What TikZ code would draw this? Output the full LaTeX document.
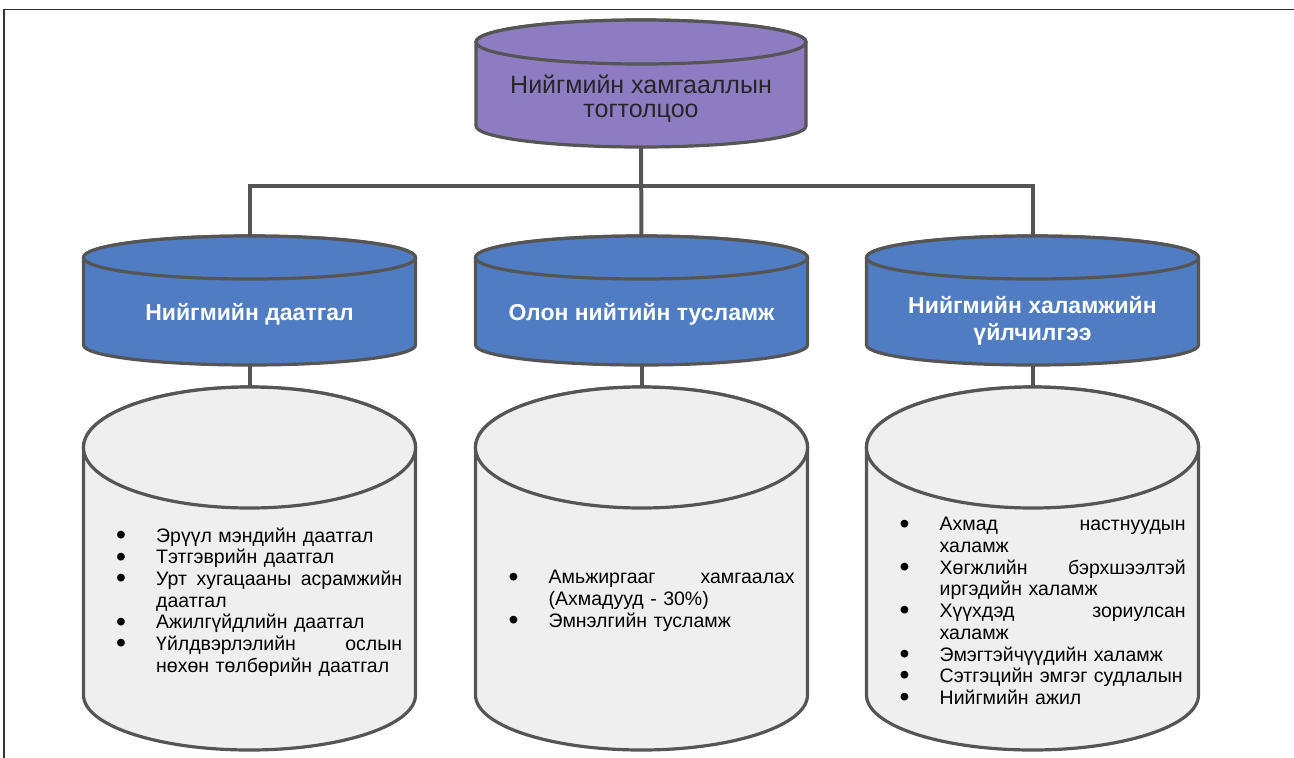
\documentclass[tikz,border=0pt]{standalone}
\usepackage{fontspec}
\setmainfont{Liberation Sans}
\definecolor{edgegray}{HTML}{555555}
\definecolor{purplefill}{HTML}{8E7CC3}
\definecolor{bluefill}{HTML}{4F7CC2}
\definecolor{grayfill}{HTML}{EFEFF0}
\definecolor{framegray}{HTML}{333333}
\newcommand\drawcyl[7]{%
  \filldraw[cylline, fill=#7] ({#1-#2},#3) -- ({#1-#2},#5)
    arc[start angle=180,end angle=360,x radius=#2pt,y radius=#6pt]
    -- ({#1+#2},#3)
    arc[start angle=0,end angle=180,x radius=#2pt,y radius=#4pt] -- cycle;
  \filldraw[cylline, fill=#7] (#1,#3) ellipse[x radius=#2pt, y radius=#4pt];
}
\newcommand\bul{\makebox[40pt][l]{\smash{\raisebox{-2.2pt}{\scalebox{1.45}{\textbullet}}}}}
\newcommand\ind{\hspace*{40pt}}
\begin{document}
\begin{tikzpicture}[x=1pt,y=-1pt,
  cylline/.style={draw=edgegray, line width=3.2pt},
  conn/.style={draw=edgegray, line width=4pt},
  toptext/.style={align=center, text=black!85, font=\fontsize{25}{24}\selectfont},
  bluetext/.style={align=center, text=white, font=\bfseries\fontsize{23}{27}\selectfont},
  listtext/.style={anchor=west, align=left, text width=286pt, inner sep=0pt, text=black,
    font=\fontsize{19.5}{21.7}\selectfont}]
\useasboundingbox (0,0) rectangle (1294,758);
% frame
\draw[framegray, line width=1.2pt] (4,758) -- (4,9.5) -- (1294,9.5);
% top cylinder
\drawcyl{641}{165}{42}{22}{126}{21}{purplefill}
\node[toptext] (top) at (641,99) {Нийгмийн хамгааллын\\тогтолцоо};
% blue cylinders
\drawcyl{249.5}{166}{257.5}{21.5}{345}{20}{bluefill}
\drawcyl{641.5}{166}{257.5}{21.5}{345}{20}{bluefill}
\drawcyl{1032.5}{166}{257.5}{21.5}{345}{20}{bluefill}
\node[bluetext] (b1) at (249.5,314) {Нийгмийн даатгал};
\node[bluetext] (b2) at (641.5,314) {Олон нийтийн тусламж};
\node[bluetext] (b3) at (1032.5,320.5) {Нийгмийн халамжийн\\үйлчилгээ};
% gray cylinders
\drawcyl{249.5}{166}{447.5}{60.5}{695}{55}{grayfill}
\drawcyl{641.5}{166}{447.5}{60.5}{695}{55}{grayfill}
\drawcyl{1032.5}{166}{447.5}{60.5}{695}{55}{grayfill}
\node[listtext] (g1) at (116,602) {\bul Эрүүл мэндийн даатгал\\
\bul Тэтгэврийн даатгал\\
\bul Урт\hfill хугацааны\hfill асрамжийн\\
\ind даатгал\\
\bul Ажилгүйдлийн даатгал\\
\bul Үйлдвэрлэлийн\hfill ослын\\
\ind нөхөн төлбөрийн даатгал};
\node[listtext] (g2) at (508.5,601) {\bul Амьжиргааг\hfill хамгаалах\\
\ind (Ахмадууд - 30\%)\\
\bul Эмнэлгийн тусламж};
\node[listtext] (g3) at (899.5,611) {\bul Ахмад\hfill настнуудын\\
\ind халамж\\
\bul Хөгжлийн\hfill бэрхшээлтэй\\
\ind иргэдийн халамж\\
\bul Хүүхдэд\hfill зориулсан\\
\ind халамж\\
\bul Эмэгтэйчүүдийн халамж\\
\bul \resizebox{243pt}{\height}{Сэтгэцийн эмгэг судлалын}\\
\bul Нийгмийн ажил};
% connector anchors
\coordinate (top-s) at (641,147);
\coordinate (b1-n) at (249.5,236);
\coordinate (b2-n) at (641.5,236);
\coordinate (b3-n) at (1032.5,236);
\coordinate (b1-s) at (249.5,365);
\coordinate (b2-s) at (641.5,365);
\coordinate (b3-s) at (1032.5,365);
\coordinate (g1-n) at (249.5,387);
\coordinate (g2-n) at (641.5,387);
\coordinate (g3-n) at (1032.5,387);
% connectors
\draw[conn] (top-s) -- (b2-n);
\draw[conn] (b1-n) |- (641,186) -| (b3-n);
\draw[conn] (b1-s) -- (g1-n);
\draw[conn] (b2-s) -- (g2-n);
\draw[conn] (b3-s) -- (g3-n);
\end{tikzpicture}
\end{document}
